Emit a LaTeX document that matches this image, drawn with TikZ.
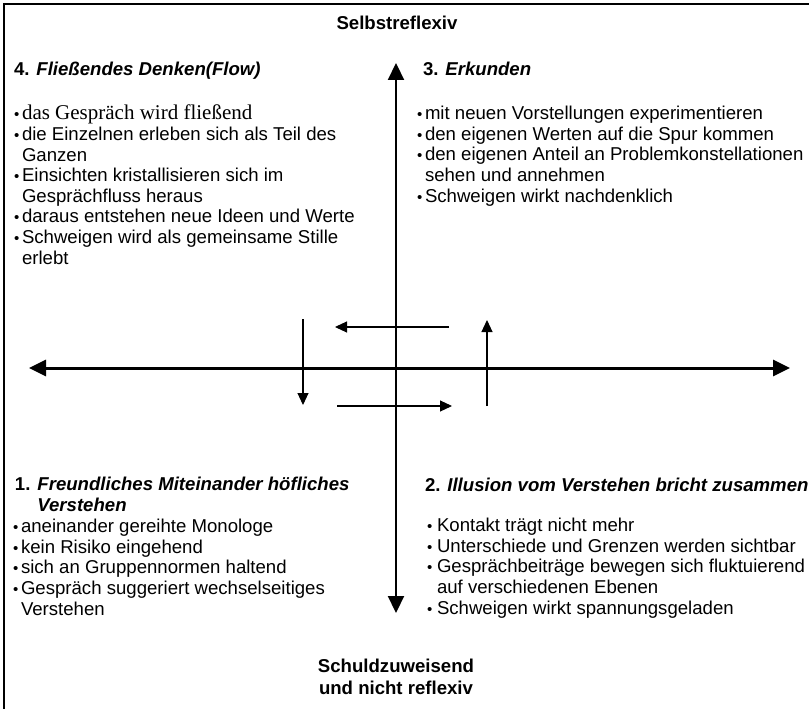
\documentclass[tikz,border=0pt]{standalone}
\usepackage{fontspec}
\setmainfont{Liberation Sans}
\newfontfamily\timesfont{Liberation Serif}
\usetikzlibrary{arrows.meta,positioning}

\newcommand{\bul}{\makebox[8pt][l]{\fontsize{15}{15}\selectfont\textbullet}}
\newcommand{\bulw}{\makebox[10pt][l]{\fontsize{15}{15}\selectfont\textbullet}}
\newcommand{\ind}{\hspace*{8pt}}
\newcommand{\indw}{\hspace*{10pt}}

\begin{document}
\begin{tikzpicture}[x=1pt,y=-1pt,
    every node/.style={inner sep=0pt,outer sep=0pt},
    qtext/.style={anchor=base west,align=left,font=\fontsize{18.6}{20.6}\selectfont},
    qhead/.style={anchor=base west,align=left,font=\fontsize{18.6}{20.6}\selectfont\bfseries},
    pole/.style={align=center,font=\fontsize{18.6}{22}\selectfont\bfseries},
    axis/.style={line width=3pt,{Triangle[length=17pt,width=16pt]}-{Triangle[length=17pt,width=16pt]}},
    flow/.style={line width=1.1pt,-{Triangle[length=12pt,width=11pt]}}
]
    \useasboundingbox (0,0) rectangle (809,709);

    % frame (only top and left edge visible)
    \coordinate (frameBL) at (3.8,709);
    \coordinate (frameTL) at (3.8,3.8);
    \coordinate (frameTR) at (809,3.8);
    \draw[line width=2.2pt] (frameBL) -- (frameTL) -- (frameTR);

    % poles
    \node[pole] (selbst) at (397,23) {Selbstreflexiv};
    \node[pole] (schuld) at (396,677) {Schuldzuweisend\\und nicht reflexiv};

    % axes
    \coordinate (vtop) at (396,63);
    \coordinate (vbot) at (396,613);
    \coordinate (hleft) at (29,368);
    \coordinate (hright) at (790,368);
    \draw[axis,line width=2.2pt] (vbot) -- (vtop);
    \draw[axis] (hleft) -- (hright);

    % cycle arrows
    \coordinate (la) at (449,327);
    \coordinate (lb) at (335,327);
    \coordinate (da) at (303,319);
    \coordinate (db) at (303,405);
    \coordinate (ra) at (337,406);
    \coordinate (rb) at (452,406);
    \coordinate (ua) at (487,406);
    \coordinate (ub) at (487,320);
    \draw[flow] (la) -- (lb);
    \draw[flow] (da) -- (db);
    \draw[flow] (ra) -- (rb);
    \draw[flow] (ua) -- (ub);

    % quadrant 4 (lists placed by the baseline of their last line)
    \node[qhead] (q4head) at (14,76) {4. \textit{Fließendes Denken(Flow)}};
    \node[qtext] (q4list) at (14,264) {%
        \bul{\timesfont\fontsize{21}{20.6}\selectfont das Gespräch wird fließend}\\
        \bul die Einzelnen erleben sich als Teil des\\
        \ind Ganzen\\
        \bul Einsichten kristallisieren sich im\\
        \ind Gesprächfluss heraus\\
        \bul daraus entstehen neue Ideen und Werte\\
        \bul Schweigen wird als gemeinsame Stille\\
        \ind erlebt};

    % quadrant 3
    \node[qhead] (q3head) at (423,76) {3. \textit{Erkunden}};
    \node[qtext] (q3list) at (417,202) {%
        \bul mit neuen Vorstellungen experimentieren\\
        \bul den eigenen Werten auf die Spur kommen\\
        \bul den eigenen Anteil an Problemkonstellationen\\
        \ind sehen und annehmen\\
        \bul Schweigen wirkt nachdenklich};

    % quadrant 1
    \node[qhead] (q1head) at (15,511) {1. \textit{Freundliches Miteinander höfliches}\\
        \phantom{1. }\textit{Verstehen}};
    \node[qtext] (q1list) at (13,615) {%
        \bul aneinander gereihte Monologe\\
        \bul kein Risiko eingehend\\
        \bul sich an Gruppennormen haltend\\
        \bul Gespräch suggeriert wechselseitiges\\
        \ind Verstehen};

    % quadrant 2
    \node[qhead] (q2head) at (425,491) {2. \textit{Illusion vom Verstehen bricht zusammen}};
    \node[qtext] (q2list) at (427,614) {%
        \bulw Kontakt trägt nicht mehr\\
        \bulw Unterschiede und Grenzen werden sichtbar\\
        \bulw Gesprächbeiträge bewegen sich fluktuierend\\
        \indw auf verschiedenen Ebenen\\
        \bulw Schweigen wirkt spannungsgeladen};
\end{tikzpicture}
\end{document}
